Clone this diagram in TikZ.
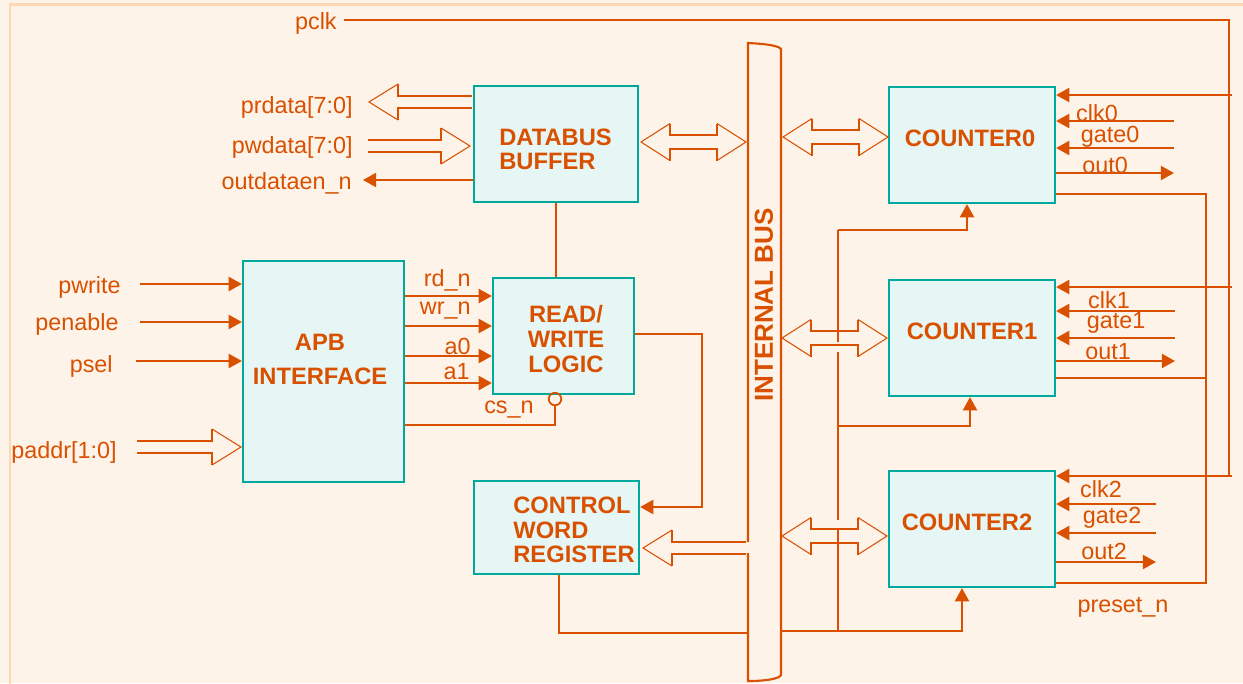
\documentclass[tikz,border=0pt]{standalone}
\usepackage{fontspec}
\setmainfont{Liberation Sans}
\usetikzlibrary{arrows.meta,positioning}
\definecolor{paper}{RGB}{254,243,233}
\definecolor{rim}{RGB}{253,216,180}
\definecolor{wire}{RGB}{217,80,0}
\definecolor{tealrim}{RGB}{0,168,157}
\definecolor{mist}{RGB}{230,246,244}
\tikzset{
  >={Triangle[length=7.5pt,width=8pt]},
  block/.style 2 args={draw=tealrim,fill=mist,line width=1.3pt,inner sep=0,
    minimum width=#1*0.2mm,minimum height=#2*0.2mm},
  title/.style={text=wire,font=\fontsize{13.5}{14}\selectfont\bfseries,inner sep=0},
  sigtext/.style={text=wire,font=\fontsize{13.3}{15}\selectfont,inner sep=0},
  sig/.style={draw=wire,line width=1.2pt},
  bubble/.style={circle,draw=wire,line width=1pt,minimum size=2.5mm,inner sep=0},
  % hollow bus arrows
  pics/fatboth/.style={code={
    \draw[draw=wire,line width=0.6pt] (29,-18.5) -- (0,0) -- (29,18.5)
      ({#1-29},-18.5) -- (#1,0) -- ({#1-29},18.5);
    \draw[sig] (29,-18.5) -- (29,-7) -- ({#1-29},-7) -- ({#1-29},-18.5)
      (29,18.5) -- (29,7) -- ({#1-29},7) -- ({#1-29},18.5);
  }},
  pics/fatright/.style={code={
    \draw[draw=wire,line width=0.6pt] ({#1-29},-18) -- (#1,0) -- ({#1-29},18);
    \draw[sig] (0,-6) -- ({#1-29},-6) -- ({#1-29},-18)
      (0,6) -- ({#1-29},6) -- ({#1-29},18);
  }},
  pics/fatleft/.style={code={
    \draw[draw=wire,line width=0.6pt] (29,-18) -- (0,0) -- (29,18);
    \draw[sig] (#1,-6) -- (29,-6) -- (29,-18)
      (#1,6) -- (29,6) -- (29,18);
  }},
}
\begin{document}
\begin{tikzpicture}[x=0.2mm,y=-0.2mm]
  \useasboundingbox (0,0) rectangle (1243,683);
  \fill[paper] (0,0) rectangle (1243,683);
  \draw[rim,line width=1.4pt] (10,690) -- (10,4.5) -- (1250,4.5);

  % blocks
  \node[block={164}{116}] (dbuf) at (556,144) {};
  \node[block={141}{116}] (rwl) at (563.5,336) {};
  \node[block={161}{221}] (apb) at (323.5,371.5) {};
  \node[block={165}{93}] (cwr) at (556.5,527.5) {};
  \node[block={166}{116}] (cnt0) at (972,145) {};
  \node[block={166}{116}] (cnt1) at (972,338) {};
  \node[block={166}{116}] (cnt2) at (972,529) {};
  \node (bus) [minimum width=33*0.2mm,minimum height=638*0.2mm,inner sep=0] at (764.5,362) {};

  \node[title,anchor=west,align=left] (dbuf-t) at (499,149.5) {DATABUS\\BUFFER};
  \node[title,align=center] (rwl-t) at (566,339) {READ/\\WRITE\\LOGIC};
  \node[title,align=center] (apb-t) at (320,359) {APB\\[5.3pt]INTERFACE};
  \node[title,anchor=west,align=left] (cwr-t) at (513,530) {CONTROL\\WORD\\REGISTER};
  \node[title] (cnt0-t) at (970,138) {COUNTER0};
  \node[title] (cnt1-t) at (972,331) {COUNTER1};
  \node[title] (cnt2-t) at (967,522) {COUNTER2};
  \node[title,font=\fontsize{14.8}{16}\selectfont\bfseries,rotate=90] (bus-t) at (764,305) {INTERNAL BUS};

  % internal bus outline
  \draw[sig] (748,542) -- (748,43) .. controls (768,44) and (779,46) .. (781,49)
    -- (781,675) .. controls (779,679) and (765,681) .. (748,681) -- (748,553);

  % wide buses
  \pic at (641,142) {fatboth=105};
  \pic at (783,137) {fatboth=105};
  \pic at (782,338) {fatboth=105};
  \pic at (782,536) {fatboth=105};
  \pic at (369,102) {fatleft=103};
  \pic at (368,146) {fatright=102};
  \pic at (137,447) {fatright=104};
  \pic at (643,548) {fatleft=103};

  % left side signals
  \node[sigtext,anchor=east] (prdata) at (353,107) {prdata[7:0]};
  \node[sigtext,anchor=east] (pwdata) at (353,147) {pwdata[7:0]};
  \node[sigtext,anchor=east] (oden) at (352,183) {outdataen\_n};
  \node[sigtext,anchor=east] (pwrite) at (121,287) {pwrite};
  \node[sigtext,anchor=east] (penable) at (119,324) {penable};
  \node[sigtext,anchor=east] (psel) at (113,366) {psel};
  \node[sigtext,anchor=east] (paddr) at (117,452) {paddr[1:0]};
  \coordinate (oden-o) at (363,180);
  \coordinate (pwrite-i) at (140,284);
  \coordinate (penable-i) at (140,322);
  \coordinate (psel-i) at (136,361);
  \draw[sig,->] (dbuf.west |- oden-o) -- (oden-o);
  \draw[sig,->] (pwrite-i) -- (apb.west |- pwrite-i);
  \draw[sig,->] (penable-i) -- (apb.west |- penable-i);
  \draw[sig,->] (psel-i) -- (apb.west |- psel-i);

  % apb to read/write logic
  \foreach \y in {296,326,356,383}
    \draw[sig,->] (apb.east |- 0,\y) -- (rwl.west |- 0,\y);
  \node[sigtext,anchor=east] (rdn) at (471,280) {rd\_n};
  \node[sigtext,anchor=east] (wrn) at (471,311) {wr\_n};
  \node[sigtext,anchor=east] (a0) at (471,346) {a0};
  \node[sigtext,anchor=east] (a1) at (470,372) {a1};
  \node[sigtext,anchor=east] (csn) at (534,410) {cs\_n};
  \node[bubble] (csb) at (555,399) {};
  \draw[sig] (apb.east |- 0,425) -| (csb.south);
  \draw[sig] (dbuf.south) -- (rwl.north -| dbuf.south);
  \draw[sig,->] (rwl.east |- 0,334) -- (702,334) |- (cwr.east |- 0,507);
  \draw[sig] (cwr.south -| 559,0) |- (bus.west |- 0,633);

  % bus to counters
  \draw[sig,->] (bus.east |- 0,631) -| (cnt2.south -| 962,0);
  \draw[sig] (838,230) -- (838,342) (838,352) -- (838,520) (838,529) -- (838,631);
  \draw[sig,->] (838,230) -| (cnt0.south -| 967,0);
  \draw[sig,->] (838,426) -| (cnt1.south -| 970,0);

  % clock and counter pins
  \node[sigtext,anchor=east] (pclk) at (337,23) {pclk};
  \coordinate (pclk-i) at (344,20);
  \draw[sig] (pclk-i) -| (1229,477);
  \foreach \c/\y in {cnt0/95,cnt1/287,cnt2/476}
    \draw[sig,->] (1232,\y) -- (\c.east |- 0,\y);
  \foreach \c/\yc/\yg/\yo/\xe in {cnt0/121/148/173/1174,cnt1/311/338/361/1175,cnt2/504/533/562/1156}{
    \draw[sig,->] (\xe,\yc) -- (\c.east |- 0,\yc);
    \draw[sig,->] (\xe,\yg) -- (\c.east |- 0,\yg);
    \draw[sig,->] (\c.east |- 0,\yo) -- (\xe,\yo);
  }
  \draw[sig] (cnt0.east |- 0,194) -| (1206,583) -- (cnt2.east |- 0,583);
  \draw[sig] (cnt1.east |- 0,378) -- (1206,378);
  \node[sigtext] (clk0) at (1097,113) {clk0};
  \node[sigtext] (gate0) at (1110,137) {gate0};
  \node[sigtext] (out0) at (1105,165) {out0};
  \node[sigtext] (clk1) at (1109,300) {clk1};
  \node[sigtext] (gate1) at (1116,323) {gate1};
  \node[sigtext] (out1) at (1108,352) {out1};
  \node[sigtext] (clk2) at (1101,489) {clk2};
  \node[sigtext] (gate2) at (1112,518) {gate2};
  \node[sigtext] (out2) at (1104,551) {out2};
  \node[sigtext] (presetn) at (1123,607) {preset\_n};
\end{tikzpicture}
\end{document}
